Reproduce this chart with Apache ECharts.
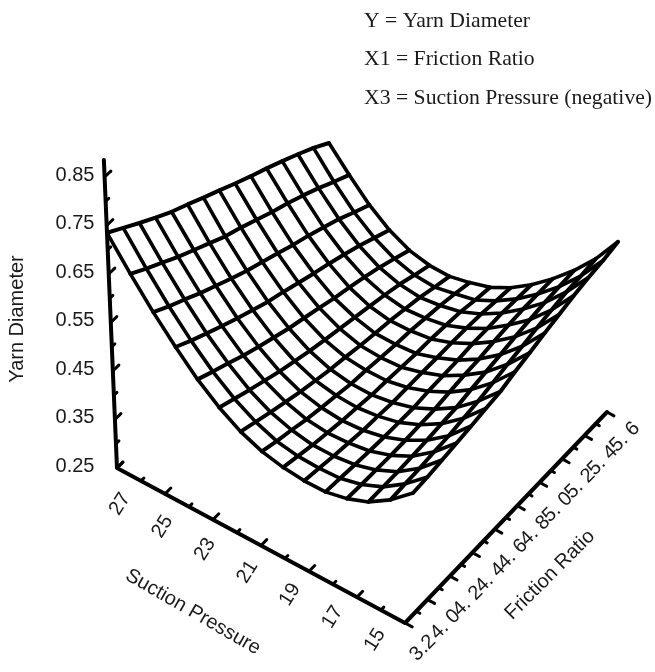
<!DOCTYPE html>
<html><head><meta charset="utf-8">
<style>html,body{margin:0;padding:0;background:#fff}#c{width:655px;height:672px}</style>
<script src="https://cdn.jsdelivr.net/npm/echarts@6/dist/echarts.min.js"></script>
</head><body><div id="c"></div>
<script>
const legendLines = ['Y = Yarn Diameter','X1 = Friction Ratio','X3 = Suction Pressure (negative)'];
const yTicks = [0.25,0.35,0.45,0.55,0.65,0.75,0.85];
const suctionTicks = [27,25,23,21,19,17,15];
const frictionTicks = [3.8,4.0,4.2,4.4,4.6,4.8,5.0,5.2,5.4,5.6];
const frictionLabels = ['3.2','4. 0','4. 2','4. 4','4. 6','4. 8','5. 0','5. 2','5. 4','5. 6'];
// rows: suction from 27 down to 15 (15 lines); columns: friction low to high (15 lines)
const yarnDiameter = [
[.735,.714,.693,.673,.654,.638,.621,.605,.588,.572,.557,.541,.524,.506,.485],
[.673,.653,.634,.615,.598,.581,.564,.551,.536,.521,.508,.493,.477,.459,.442],
[.617,.598,.581,.563,.547,.531,.516,.503,.490,.476,.464,.450,.436,.419,.403],
[.568,.550,.534,.518,.503,.489,.475,.464,.452,.440,.429,.417,.404,.389,.374],
[.524,.509,.495,.480,.467,.455,.443,.433,.423,.412,.403,.393,.382,.369,.355],
[.489,.476,.463,.451,.439,.429,.419,.411,.403,.395,.387,.379,.370,.358,.347],
[.462,.451,.440,.430,.420,.412,.404,.398,.391,.385,.380,.373,.366,.356,.347],
[.444,.434,.426,.417,.410,.404,.397,.394,.389,.385,.382,.377,.372,.365,.357],
[.434,.426,.418,.412,.406,.402,.397,.395,.392,.389,.388,.385,.382,.375,.370],
[.429,.424,.418,.414,.409,.407,.404,.404,.404,.403,.403,.402,.400,.396,.392],
[.429,.426,.423,.420,.418,.417,.416,.419,.420,.421,.424,.424,.425,.423,.421],
[.438,.436,.435,.434,.434,.435,.436,.440,.444,.446,.451,.454,.456,.456,.456],
[.454,.454,.454,.455,.457,.460,.462,.468,.473,.478,.484,.488,.492,.494,.496],
[.481,.483,.484,.487,.489,.494,.498,.505,.512,.518,.525,.531,.537,.539,.543],
[.518,.520,.524,.528,.532,.537,.541,.551,.559,.568,.576,.584,.590,.594,.601]];

// Oblique projection of the 3-D box onto the page's plotting plane.
const sMax=27,sMin=15,fMin=3.8,fMax=5.6,yFloor=0.25,yTop=0.885;
const floorA=[117,468],floorB=[405,623],floorC=[607,412],floorD=[329,257];
const yUnit=485,tiltA=-0.0426,tiltB=0.0615,tiltC=0.0647,tiltD=0;
function project(s,f,y){
  const u=(sMax-s)/(sMax-sMin), v=(f-fMin)/(fMax-fMin);
  const wA=(1-u)*(1-v),wB=u*(1-v),wC=u*v,wD=(1-u)*v;
  const fx=wA*floorA[0]+wB*floorB[0]+wC*floorC[0]+wD*floorD[0];
  const fy=wA*floorA[1]+wB*floorB[1]+wC*floorC[1]+wD*floorD[1];
  const tilt=wA*tiltA+wB*tiltB+wC*tiltC+wD*tiltD;
  const h=(y-yFloor)*yUnit;
  return [fx+tilt*h, fy-h];
}
const nS=yarnDiameter.length,nF=yarnDiameter[0].length;
const sAt=i=>sMax-(sMax-sMin)*i/(nS-1), fAt=j=>fMin+(fMax-fMin)*j/(nF-1);
const line=(pts,w)=>({type:'line',data:pts,symbol:'none',silent:true,animation:false,clip:false,
  lineStyle:{color:'#000',width:w,cap:'round',join:'round'}});
const series=[];
for(let i=0;i<nS;i++)series.push(line(yarnDiameter[i].map((y,j)=>project(sAt(i),fAt(j),y)),4));
for(let j=0;j<nF;j++)series.push(line(yarnDiameter.map((r,i)=>project(sAt(i),fAt(j),r[j])),3.6));
// box axes
series.push(line([project(sMax,fMin,yTop),project(sMax,fMin,yFloor),project(sMin,fMin,yFloor),project(sMin,fMax,yFloor)],4));
// ticks: every unit of suction, every 0.1 of friction, every 0.05 of yarn diameter
for(let s=sMax;s>=sMin;s--){const maj=(sMax-s)%2===0;
  series.push(line([project(s,fMin,yFloor),project(s,fMin+(maj?0.05:0.025),yFloor)],3));}
for(let k=0;k<=18;k++){const f=fMin+k*0.1,maj=k%2===0;
  series.push(line([project(sMin,f,yFloor),project(sMin-(maj?0.3:0.15),f,yFloor)],3));}
for(let k=0;k<=12;k++){const y=yFloor+k*0.05,maj=k%2===0;
  series.push(line([project(sMax,fMin,y),project(sMax,fMin+(maj?0.05:0.025),y)],3));}
// labels, offset from the tick in data space
const textColor='#1a1a1a',sans='"Liberation Sans",Arial,sans-serif';
const labels=(pts,texts,rot,size)=>({type:'scatter',symbolSize:0,silent:true,animation:false,clip:false,
  itemStyle:{opacity:1},
  data:pts.map((p,i)=>({value:p,label:{formatter:texts[i]}})),
  label:{show:true,position:'inside',rotate:rot,fontFamily:sans,fontSize:size,color:textColor,align:'center',verticalAlign:'middle'}});
const off=(p,dx,dy)=>[p[0]+dx,p[1]+dy];
series.push(labels(yTicks.map(y=>[75,project(sMax,fMin,y)[1]-2]),yTicks.map(y=>y.toFixed(2)),0,20));
series.push(labels(suctionTicks.map(s=>off(project(s,fMin,yFloor),3-2.75*(27-s),36-1.6*(27-s))),suctionTicks.map(String),58,20));
series.push(labels(frictionTicks.map(f=>off(project(sMin,f,yFloor),18,25)),frictionLabels,45,20));
series.push(labels([[193,612]],['Suction Pressure'],-30,20));
series.push(labels([[550,575]],['Friction Ratio'],45,20));
series.push(labels([[17,319]],['Yarn Diameter'],90,20));

const chart=echarts.init(document.getElementById('c'),null,{renderer:'canvas'});
chart.setOption({
  animation:false,backgroundColor:'#fff',
  grid:{left:0,right:0,top:0,bottom:0},
  xAxis:{type:'value',min:0,max:655,show:false},
  yAxis:{type:'value',min:0,max:672,inverse:true,show:false},
  title:legendLines.map((t,i)=>({text:t,left:364,top:[10,48,87][i],padding:0,
    textStyle:{fontFamily:'"Liberation Serif",serif',fontSize:21.7,fontWeight:'normal',color:'#1a1a1a'}})),
  series
});
</script></body></html>
